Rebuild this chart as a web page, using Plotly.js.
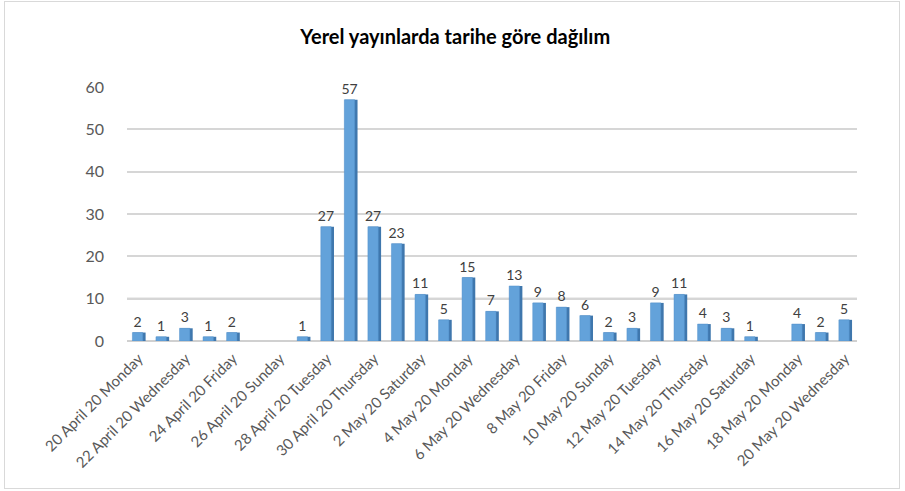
<!DOCTYPE html>
<html>
<head>
<meta charset="utf-8">
<script src="https://cdn.plot.ly/plotly-3.0.1.min.js"></script>
<style>
html,body{margin:0;padding:0;background:#fff;}
#wrap{position:relative;width:905px;height:491px;}
#chart{width:905px;height:491px;}
#frame{position:absolute;left:4px;top:1px;width:894px;height:486px;border:1px solid #d9d9d9;pointer-events:none;}
</style>
</head>
<body>
<div id="wrap"><div id="chart"></div><div id="frame"></div></div>
<script>
const categories = [
  "20 April 20 Monday","21 April 20 Tuesday","22 April 20 Wednesday","23 April 20 Thursday",
  "24 April 20 Friday","25 April 20 Saturday","26 April 20 Sunday","27 April 20 Monday",
  "28 April 20 Tuesday","29 April 20 Wednesday","30 April 20 Thursday","1 May 20 Friday",
  "2 May 20 Saturday","3 May 20 Sunday","4 May 20 Monday","5 May 20 Tuesday",
  "6 May 20 Wednesday","7 May 20 Thursday","8 May 20 Friday","9 May 20 Saturday",
  "10 May 20 Sunday","11 May 20 Monday","12 May 20 Tuesday","13 May 20 Wednesday",
  "14 May 20 Thursday","15 May 20 Friday","16 May 20 Saturday","17 May 20 Sunday",
  "18 May 20 Monday","19 May 20 Tuesday","20 May 20 Wednesday"
];
const counts = [2,1,3,1,2,null,null,1,27,57,27,23,11,5,15,7,13,9,8,6,2,3,9,11,4,3,1,null,4,2,5];
const tickLabels = categories.filter((c,i)=>i%2===0);
const yTicks = [0,10,20,30,40,50,60];

const font = "Lato, 'Open Sans', 'Liberation Sans', sans-serif";

const side = {
  type:'bar', x:categories, y:counts,
  width:0.54, offset:-0.25,
  marker:{color:'#3f77ad'},
  hoverinfo:'skip', showlegend:false
};
const front = {
  type:'bar', x:categories, y:counts,
  width:0.44, offset:-0.27,
  marker:{color:'#63a2da', line:{color:'#5592cc', width:0.5}},
  text:counts.map(v=>v===null?'':String(v)),
  textposition:'outside',
  constraintext:'none',
  textfont:{family:font, size:14, color:'#404040'},
  cliponaxis:false,
  showlegend:false
};

const layout = {
  width:905, height:491,
  margin:{l:127, r:48, t:87, b:150},
  paper_bgcolor:'#ffffff', plot_bgcolor:'#ffffff',
  barmode:'overlay',
  title:{text:'<b>Yerel yayınlarda tarihe göre dağılım</b>', x:0.503, xref:'container', xanchor:'center',
    y:0.925, yref:'container', yanchor:'middle',
    font:{family:font, size:20, color:'#000000'}},
  xaxis:{
    type:'category', tickvals:tickLabels, ticktext:tickLabels,
    tickangle:-45, tickfont:{family:font, size:15, color:'#595959'},
    showgrid:false, showline:false, ticks:'', zeroline:false,
    ticklabelstandoff:5,
    range:[-0.5, categories.length-0.5]
  },
  yaxis:{
    range:[0,60], tickvals:yTicks, ticks:'',
    tickfont:{family:font, size:16, color:'#595959'},
    showgrid:true, gridcolor:'#d6d6d6', gridwidth:2,
    zeroline:true, zerolinecolor:'#d0d0d0', zerolinewidth:2,
    showline:false, ticklabelstandoff:22
  },
  shapes:[
    {type:'line', xref:'paper', yref:'y', x0:0, x1:1, y0:10, y1:10, line:{color:'#b8b8b8', width:2}, layer:'below'}
  ]
};

Plotly.newPlot('chart', [side, front], layout, {displayModeBar:false, staticPlot:true});
</script>
</body>
</html>
